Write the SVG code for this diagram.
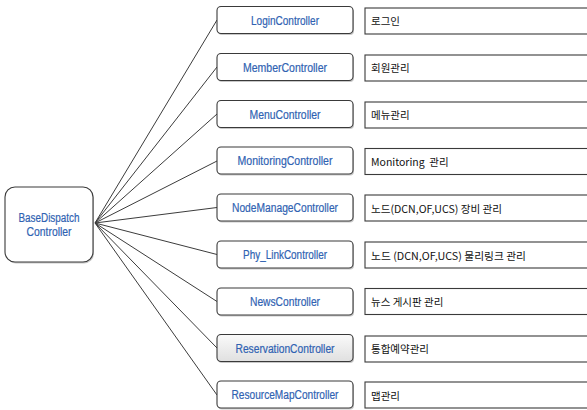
<svg xmlns="http://www.w3.org/2000/svg" width="587" height="410" viewBox="0 0 587 410">
<defs>
<linearGradient id="gray" x1="0" y1="0" x2="0" y2="1">
<stop offset="0" stop-color="#fafafa"/>
<stop offset="1" stop-color="#e0e0e0"/>
</linearGradient>
</defs>
<style>
.ctrl{fill:#ffffff;stroke:#3a3a3a;stroke-width:1.1}
.shadow{fill:#c8c8c8;stroke:none}
.desc{fill:#ffffff;stroke:#3a3a3a;stroke-width:1.1}
.ct{font-family:"Liberation Sans",Arial,sans-serif;font-size:12.5px;fill:#2f62b2;stroke:#2f62b2;stroke-width:0.2;text-anchor:middle}
.dt{font-family:"Noto Sans CJK KR","Liberation Sans",sans-serif;font-size:10.5px;fill:#111111}
.conn line{stroke:#3c3c3c;stroke-width:1}
</style>
<rect width="587" height="410" fill="#ffffff"/>
<g class="conn">
<line x1="95" y1="223" x2="217" y2="20"/>
<line x1="95" y1="223" x2="217" y2="67"/>
<line x1="95" y1="223" x2="217" y2="114"/>
<line x1="95" y1="223" x2="217" y2="161"/>
<line x1="95" y1="223" x2="217" y2="207.5"/>
<line x1="95" y1="223" x2="217" y2="254.5"/>
<line x1="95" y1="223" x2="217" y2="301.5"/>
<line x1="95" y1="223" x2="217" y2="348"/>
<line x1="95" y1="223" x2="217" y2="395"/>
</g>
<g id="base">
<rect x="6" y="188.5" width="88" height="75" rx="10" class="shadow"/>
<rect x="5" y="187" width="88" height="75" rx="10" class="ctrl"/>
<text x="49" y="221.5" class="ct" textLength="61" lengthAdjust="spacingAndGlyphs">BaseDispatch</text>
<text x="49" y="235.5" class="ct" textLength="45" lengthAdjust="spacingAndGlyphs">Controller</text>
</g>
<g id="login">
<rect x="218" y="8" width="136" height="27" rx="4" class="shadow"/>
<rect x="217" y="6.5" width="136" height="27" rx="4" class="ctrl"/>
<text x="285" y="24.5" class="ct" textLength="68" lengthAdjust="spacingAndGlyphs">LoginController</text>
<rect x="365" y="8" width="240" height="26" class="desc"/>
<text x="371" y="25" class="dt">로그인</text>
</g>
<g id="member">
<rect x="218" y="55" width="136" height="27" rx="4" class="shadow"/>
<rect x="217" y="53.5" width="136" height="27" rx="4" class="ctrl"/>
<text x="285" y="71.5" class="ct" textLength="84" lengthAdjust="spacingAndGlyphs">MemberController</text>
<rect x="365" y="55" width="240" height="26" class="desc"/>
<text x="371" y="72" class="dt">회원관리</text>
</g>
<g id="menu">
<rect x="218" y="102" width="136" height="27" rx="4" class="shadow"/>
<rect x="217" y="100.5" width="136" height="27" rx="4" class="ctrl"/>
<text x="285" y="118.5" class="ct" textLength="71" lengthAdjust="spacingAndGlyphs">MenuController</text>
<rect x="365" y="102" width="240" height="26" class="desc"/>
<text x="371" y="119" class="dt">메뉴관리</text>
</g>
<g id="monitoring">
<rect x="218" y="148.5" width="136" height="27" rx="4" class="shadow"/>
<rect x="217" y="147" width="136" height="27" rx="4" class="ctrl"/>
<text x="285" y="165" class="ct" textLength="95" lengthAdjust="spacingAndGlyphs">MonitoringController</text>
<rect x="365" y="148.5" width="240" height="26" class="desc"/>
<text x="371" y="165.5" class="dt" xml:space="preserve">Monitoring  관리</text>
</g>
<g id="nodemanage">
<rect x="218" y="195.5" width="136" height="27" rx="4" class="shadow"/>
<rect x="217" y="194" width="136" height="27" rx="4" class="ctrl"/>
<text x="285" y="212" class="ct" textLength="106" lengthAdjust="spacingAndGlyphs">NodeManageController</text>
<rect x="365" y="195" width="240" height="26" class="desc"/>
<text x="371" y="212.5" class="dt" textLength="131" lengthAdjust="spacingAndGlyphs">노드(DCN,OF,UCS) 장비 관리</text>
</g>
<g id="phylink">
<rect x="218" y="242.5" width="136" height="27" rx="4" class="shadow"/>
<rect x="217" y="241" width="136" height="27" rx="4" class="ctrl"/>
<text x="285" y="259" class="ct" textLength="84" lengthAdjust="spacingAndGlyphs">Phy_LinkController</text>
<rect x="365" y="242" width="240" height="26" class="desc"/>
<text x="371" y="259.5" class="dt" textLength="155" lengthAdjust="spacingAndGlyphs">노드 (DCN,OF,UCS) 물리링크 관리</text>
</g>
<g id="news">
<rect x="218" y="289.5" width="136" height="27" rx="4" class="shadow"/>
<rect x="217" y="288" width="136" height="27" rx="4" class="ctrl"/>
<text x="285" y="306" class="ct" textLength="70" lengthAdjust="spacingAndGlyphs">NewsController</text>
<rect x="365" y="288.5" width="240" height="26" class="desc"/>
<text x="371" y="306" class="dt">뉴스 게시판 관리</text>
</g>
<g id="reservation">
<rect x="218" y="336" width="136" height="27" rx="4" class="shadow"/>
<rect x="217" y="334.5" width="136" height="27" rx="4" class="ctrl" style="fill:url(#gray)"/>
<text x="285" y="352.5" class="ct" textLength="99" lengthAdjust="spacingAndGlyphs">ReservationController</text>
<rect x="365" y="336" width="240" height="26" class="desc"/>
<text x="371" y="353" class="dt">통합예약관리</text>
</g>
<g id="resourcemap">
<rect x="218" y="382.5" width="136" height="27" rx="4" class="shadow"/>
<rect x="217" y="381" width="136" height="27" rx="4" class="ctrl"/>
<text x="285" y="399" class="ct" textLength="107" lengthAdjust="spacingAndGlyphs">ResourceMapController</text>
<rect x="365" y="382" width="240" height="26" class="desc"/>
<text x="371" y="399.5" class="dt">맵관리</text>
</g>
</svg>
